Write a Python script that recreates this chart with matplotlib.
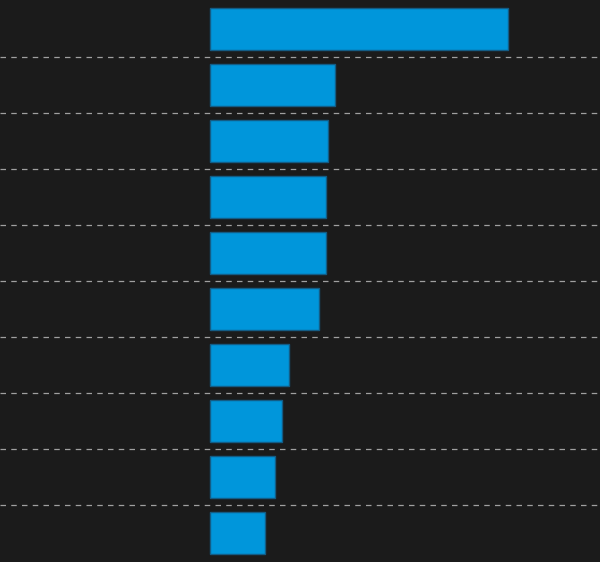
import matplotlib
matplotlib.use("Agg")
import matplotlib.pyplot as plt
import numpy as np

categories = ["A", "B", "C", "D", "E", "F", "G", "H", "I", "J"]
values = [298, 125, 118, 116, 116, 109, 79, 72, 65, 55]

fig = plt.figure(figsize=(6, 5.62), dpi=100)
fig.patch.set_facecolor("#1b1b1b")
ax = fig.add_axes([0, 1 / 562, 1, 560 / 562])
ax.set_facecolor("#1b1b1b")

y = np.arange(len(categories))
ax.barh(y, values, height=0.75, color="#0096db", edgecolor="#135c85", linewidth=1, zorder=3)

ax.set_ylim(len(categories) - 0.5, -0.5)
ax.set_xlim(-210, 390)
ax.set_yticks(y[:-1] + 0.5)
ax.grid(axis="y", color="#a0a0a0", linestyle=(0, (4.4, 4.2)), linewidth=0.9, zorder=1)
ax.grid(axis="x", visible=False)
ax.tick_params(left=False, bottom=False, labelleft=False, labelbottom=False)
for s in ax.spines.values():
    s.set_visible(False)

fig.savefig("out.png", dpi=100, facecolor=fig.get_facecolor())
